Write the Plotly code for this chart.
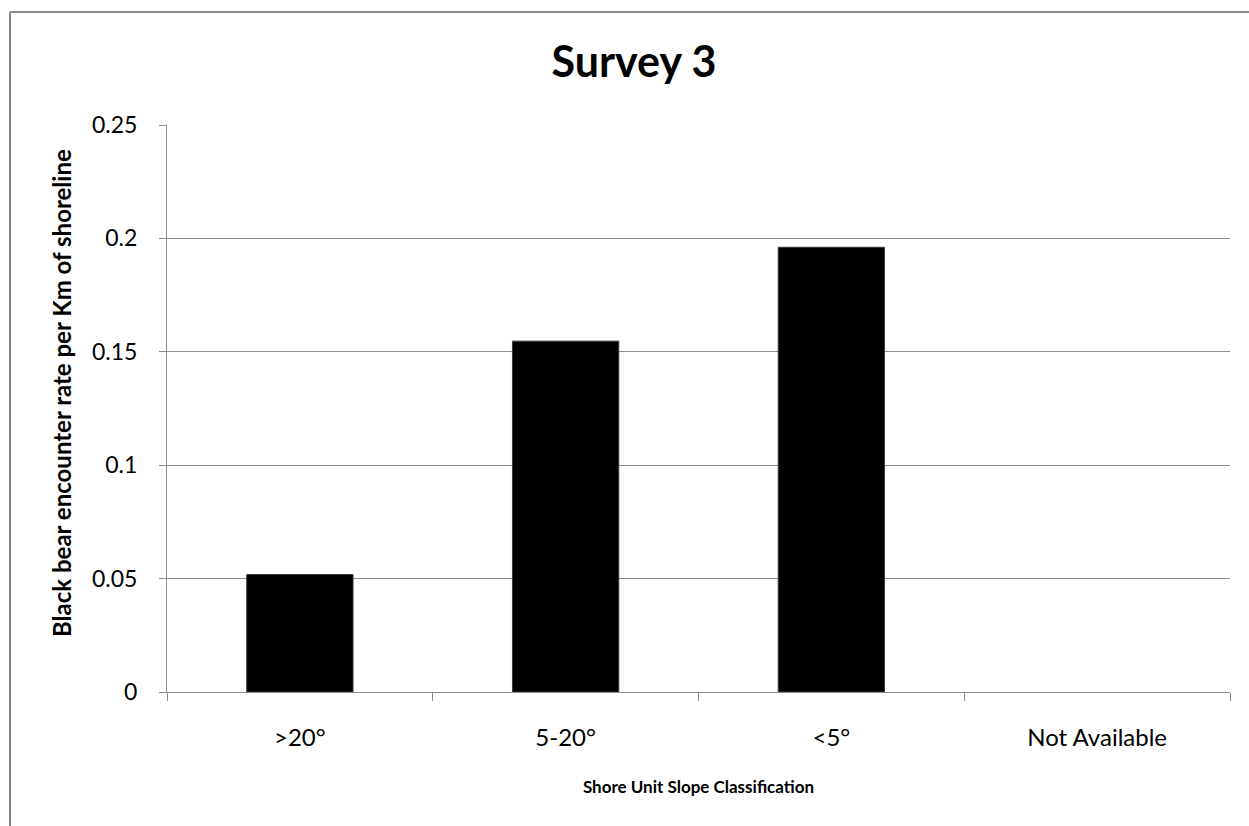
import plotly.graph_objects as go

# Shore unit slope classes and black bear encounter rates (per km of shoreline)
categories = [">20°", "5-20°", "<5°", "Not Available"]
encounter_rate = [0.0518, 0.1547, 0.1961, None]
y_ticks = [0, 0.05, 0.1, 0.15, 0.2, 0.25]
y_tick_labels = ["0", "0.05", "0.1", "0.15", "0.2", "0.25"]

GRID = "#8c8c8c"
FONT = "Lato, Carlito, Calibri, sans-serif"

W, H = 1249, 826
M_L, M_R, M_T, M_B = 167, 19, 125, 134
plot_w = W - M_L - M_R
plot_h = H - M_T - M_B

fig = go.Figure(
    go.Bar(
        x=categories,
        y=encounter_rate,
        marker=dict(color="black", line=dict(color="#3a3a3a", width=1)),
        hoverinfo="x+y",
    )
)

fig.update_layout(
    width=W,
    height=H,
    paper_bgcolor="white",
    plot_bgcolor="white",
    margin=dict(l=M_L, r=M_R, t=M_T, b=M_B, pad=0),
    bargap=0.6,
    showlegend=False,
    font=dict(family=FONT, size=23, color="black"),
    title=dict(
        text="<b>Survey 3</b>",
        x=634 / W,
        xref="container",
        xanchor="center",
        y=1 - 62 / H,
        yanchor="middle",
        font=dict(family=FONT, size=43, color="black"),
    ),
    xaxis=dict(
        type="category",
        showline=True,
        linecolor=GRID,
        linewidth=1,
        showgrid=False,
        ticks="outside",
        tickson="boundaries",
        ticklen=8,
        tickcolor=GRID,
        ticklabelstandoff=24,
        tickfont=dict(family=FONT, size=24, color="black"),
        title=dict(
            text="<b>Shore Unit Slope Classification</b>",
            font=dict(family=FONT, size=17, color="black"),
            standoff=31,
        ),
    ),
    yaxis=dict(
        range=[0, 0.25],
        tickvals=y_ticks,
        ticktext=y_tick_labels,
        showline=True,
        linecolor=GRID,
        linewidth=1,
        showgrid=True,
        gridcolor=GRID,
        gridwidth=1,
        zeroline=False,
        ticks="outside",
        ticklen=7,
        tickcolor=GRID,
        ticklabelstandoff=17,
        tickfont=dict(family=FONT, size=23, color="black"),
    ),
)

# Vertical axis title, placed to the left of the tick labels
fig.add_annotation(
    text="<b>Black bear encounter rate per Km of shoreline</b>",
    xref="paper", yref="paper",
    x=(61 - M_L) / plot_w, y=(H - M_B - 393) / plot_h,
    xanchor="center", yanchor="middle",
    textangle=-90, showarrow=False,
    font=dict(family=FONT, size=24, color="black"),
)

# Chart-area frame (top and left edges)
x_left = (10 - M_L) / plot_w
y_top = (H - M_B - 12) / plot_h
fig.add_shape(type="line", xref="paper", yref="paper",
              x0=x_left, x1=1.2, y0=y_top, y1=y_top,
              line=dict(color="#878787", width=2))
fig.add_shape(type="line", xref="paper", yref="paper",
              x0=x_left, x1=x_left, y0=y_top, y1=-0.5,
              line=dict(color="#878787", width=2))

fig.write_html("out.html")
